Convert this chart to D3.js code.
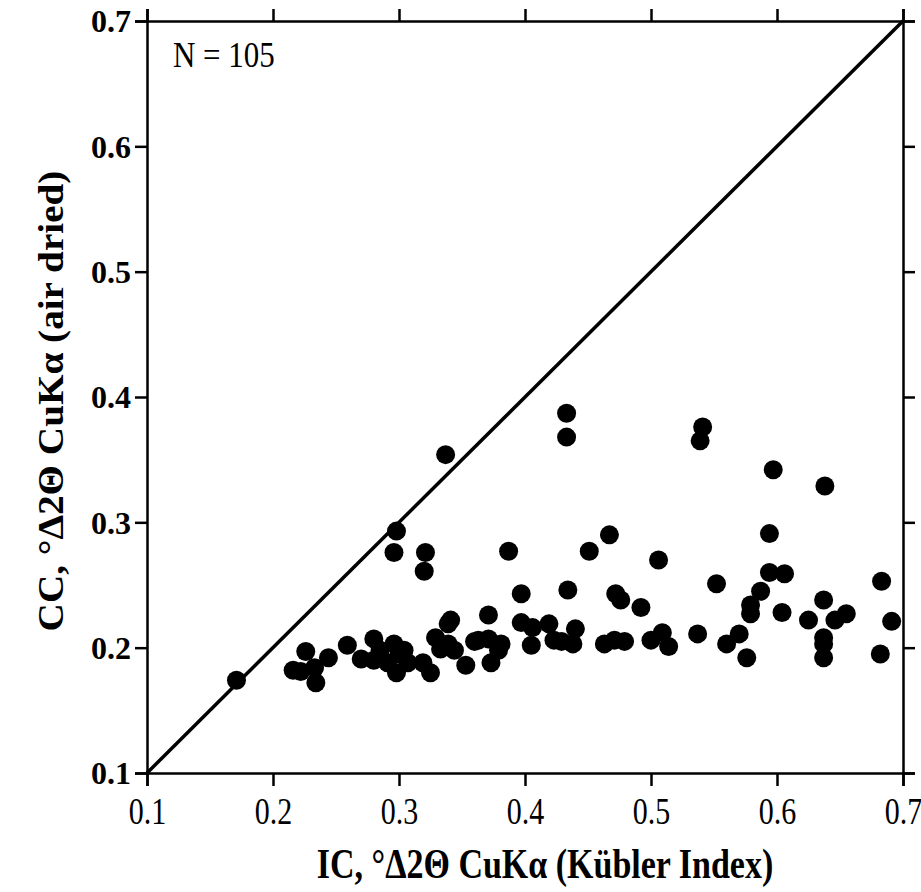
<!DOCTYPE html>
<html>
<head>
<meta charset="utf-8">
<script src="https://cdn.jsdelivr.net/npm/d3@7"></script>
<style>
  body { margin: 0; background: #fff; }
  svg { display: block; }
  .tick text { font-family: "Liberation Serif", "Times New Roman", serif; fill: #000; }
  .title { font-family: "Liberation Serif", "Times New Roman", serif; font-weight: bold; fill: #000; }
</style>
</head>
<body>
<svg id="chart"></svg>
<script>
// Data (IC = Kübler index, CC = air dried)
const ic = [
    0.171,
    0.216, 0.222, 0.226, 0.233, 0.234, 0.244, 0.259,
    0.270, 0.280, 0.280, 0.285, 0.291, 0.296, 0.298, 0.304, 0.307, 0.300, 0.319, 0.325,
    0.329, 0.333, 0.339, 0.341, 0.339, 0.344, 0.353, 0.360, 0.363, 0.371, 0.371, 0.373,
    0.379, 0.381,
    0.296, 0.298, 0.320, 0.321, 0.337, 0.387,
    0.397, 0.397, 0.406, 0.405, 0.419, 0.423, 0.429, 0.433, 0.433, 0.434, 0.440, 0.438,
    0.451, 0.463, 0.467, 0.471, 0.472, 0.476, 0.479, 0.492, 0.500, 0.506, 0.509, 0.514,
    0.537, 0.541, 0.539, 0.552, 0.560, 0.570, 0.576, 0.579, 0.579, 0.587, 0.594, 0.594,
    0.597, 0.604, 0.606, 0.625, 0.637, 0.637, 0.637, 0.637, 0.638, 0.646, 0.655, 0.682,
    0.683, 0.691
];

const cc = [
    0.174,
    0.182, 0.181, 0.197, 0.184, 0.172, 0.192, 0.202,
    0.191, 0.207, 0.190, 0.198, 0.188, 0.203, 0.180, 0.198, 0.188, 0.195, 0.188, 0.180,
    0.208, 0.199, 0.219, 0.222, 0.203, 0.198, 0.186, 0.205, 0.206, 0.207, 0.226, 0.188,
    0.198, 0.203,
    0.276, 0.293, 0.261, 0.276, 0.354, 0.277,
    0.243, 0.220, 0.216, 0.202, 0.219, 0.206, 0.205, 0.387, 0.368, 0.246, 0.215, 0.203,
    0.277, 0.203, 0.290, 0.206, 0.243, 0.238, 0.205, 0.232, 0.206, 0.270, 0.212, 0.201,
    0.211, 0.376, 0.365, 0.251, 0.203, 0.211, 0.192, 0.234, 0.227, 0.245, 0.291, 0.260,
    0.342, 0.228, 0.259, 0.222, 0.238, 0.208, 0.203, 0.192, 0.329, 0.222, 0.227, 0.195,
    0.253, 0.221
];

const tickValues = [0.1, 0.2, 0.3, 0.4, 0.5, 0.6, 0.7];
const sampleLabel = "N = 105";

// SVG setup

const margin = { top: 21, right: 18, bottom: 119, left: 147 },
    width = 921 - margin.left - margin.right,
    height = 892 - margin.top - margin.bottom;

const svg = d3.select("svg#chart")
    .attr("width", width + margin.left + margin.right)
    .attr("height", height + margin.top + margin.bottom)
    .append("g")
    .attr("transform", `translate(${margin.left},${margin.top})`);

// Scale

const x = d3.scaleLinear()
    .domain([0.1, 0.7])
    .range([0, width]);

const y = d3.scaleLinear()
    .domain([0.1, 0.7])
    .range([height, 0]);

// Axis

const fmt = d3.format(".1f");

svg.append("g")
    .attr("transform", `translate(0,${height})`)
    .call(d3.axisBottom(x).tickValues(tickValues).tickFormat(fmt).tickSize(13))
    .selectAll("text")
    .attr("y", 0)
    .attr("dy", null)
    .attr("transform", "translate(0,51) scale(1,1.25)")
    .style("font-size", "30px");

svg.append("g")
    .call(d3.axisTop(x).tickValues(tickValues).tickFormat("").tickSize(12));

svg.append("g")
    .call(d3.axisLeft(y).tickValues(tickValues).tickFormat(fmt).tickSize(12))
    .selectAll("text")
    .attr("x", -16)
    .attr("dy", "0.34em")
    .style("font-size", "32px")
    .style("font-weight", "bold");

svg.append("g")
    .attr("transform", `translate(${width},0)`)
    .call(d3.axisRight(y).tickValues(tickValues).tickFormat("").tickSize(12));

svg.selectAll(".domain, .tick line")
    .attr("stroke", "#000")
    .attr("stroke-width", 2.5);

// 1:1 line

svg.append("line")
    .attr("x1", x(0.1))
    .attr("y1", y(0.1))
    .attr("x2", x(0.7))
    .attr("y2", y(0.7))
    .attr("stroke", "#000")
    .attr("stroke-width", 3.5);

// Points

svg.selectAll("circle")
    .data(ic.map((d, i) => [d, cc[i]]))
    .join("circle")
    .attr("cx", d => x(d[0]))
    .attr("cy", d => y(d[1]))
    .attr("r", 9.5)
    .attr("fill", "#000");

// Labels

svg.append("text")
    .attr("transform", "translate(26,46) scale(1,1.15)")
    .style("font-family", "Liberation Serif, serif")
    .style("font-size", "31px")
    .text(sampleLabel);

svg.append("text")
    .attr("class", "title")
    .attr("transform", `translate(${width / 2 + 20},${height + 105}) scale(1,1.25)`)
    .attr("text-anchor", "middle")
    .style("font-size", "34px")
    .text("IC, °Δ2Θ CuKα (Kübler Index)");

svg.append("text")
    .attr("class", "title")
    .attr("transform", `translate(-84,${y(0.4) + 4}) rotate(-90) scale(1.12,1)`)
    .attr("text-anchor", "middle")
    .style("font-size", "35px")
    .text("CC, °Δ2Θ CuKα (air dried)");
</script>
</body>
</html>
